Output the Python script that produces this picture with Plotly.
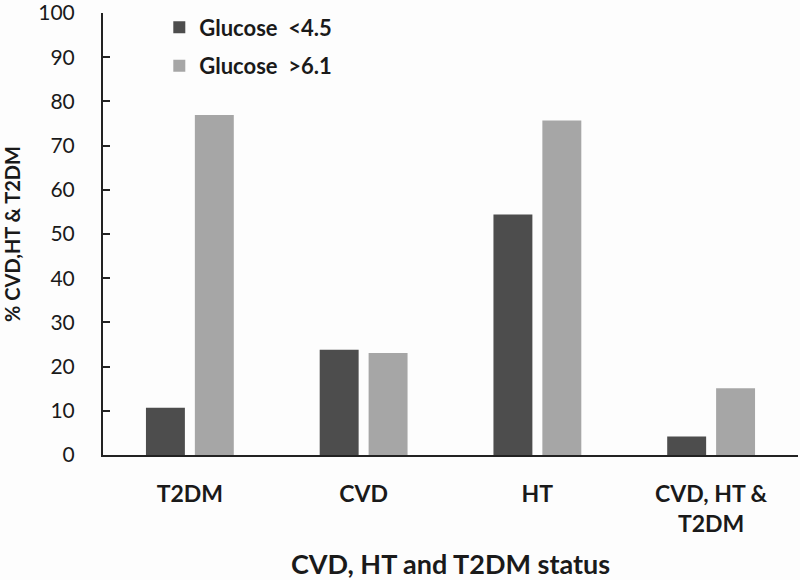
import plotly.graph_objects as go

categories = ["T2DM", "CVD", "HT", "CVD, HT &<br>T2DM"]
low_glucose = [10.7, 23.8, 54.4, 4.2]
high_glucose = [76.9, 23.1, 75.7, 15.1]
series_names = ["<b>Glucose  <4.5</b>", "<b>Glucose  >6.1</b>"]
y_ticks = [0, 10, 20, 30, 40, 50, 60, 70, 80, 90, 100]

FONT = "Lato"
TXT = "#1a1a1a"

fig = go.Figure()
fig.add_trace(go.Bar(x=categories, y=low_glucose, name=series_names[0],
                     marker=dict(color="#4d4d4d", line=dict(width=0)), legendgroup="a"))
fig.add_trace(go.Bar(x=categories, y=high_glucose, name=series_names[1],
                     marker=dict(color="#a6a6a6", line=dict(width=0)), legendgroup="b"))

fig.update_layout(
    width=800, height=580,
    margin=dict(l=103, r=2, t=13, b=125),
    paper_bgcolor="#fdfdfd", plot_bgcolor="#fdfdfd",
    barmode="group", bargap=0.437, bargroupgap=0.204,
    font=dict(family=FONT, color=TXT),
    showlegend=True,
    legend=dict(x=0.081, y=1.015, xanchor="left", yanchor="top",
                bgcolor="rgba(0,0,0,0)", font=dict(size=22, family=FONT, color=TXT),
                traceorder="grouped", tracegroupgap=7),
    xaxis=dict(
        showline=True, linecolor="#222222", linewidth=2, automargin=False,
        ticks="outside", ticklen=17, tickcolor="rgba(0,0,0,0)",
        tickfont=dict(size=23, family=FONT, color=TXT),
        title=dict(text="<b>CVD, HT and T2DM status</b>", font=dict(size=27, family=FONT, color=TXT), standoff=20),
        showgrid=False,
    ),
    yaxis=dict(
        range=[0, 100], tickvals=y_ticks, showline=True, linecolor="#222222", linewidth=2,
        automargin=False, ticklabeloverflow="allow",
        ticks="inside", ticklen=7, tickwidth=2, tickcolor="#222222",
        ticklabelstandoff=22,
        tickfont=dict(size=21, family=FONT, color=TXT),
        title=dict(text="<b>% CVD,HT & T2DM</b>", font=dict(size=20, family=FONT, color=TXT), standoff=16),
        showgrid=False, zeroline=False,
    ),
)
fig.update_xaxes(tickprefix="<b>", ticksuffix="</b>")
fig.update_traces(hoverinfo="skip")
fig.write_html("out.html", config={"displayModeBar": False},
               post_script="document.body.style.margin='0';")
